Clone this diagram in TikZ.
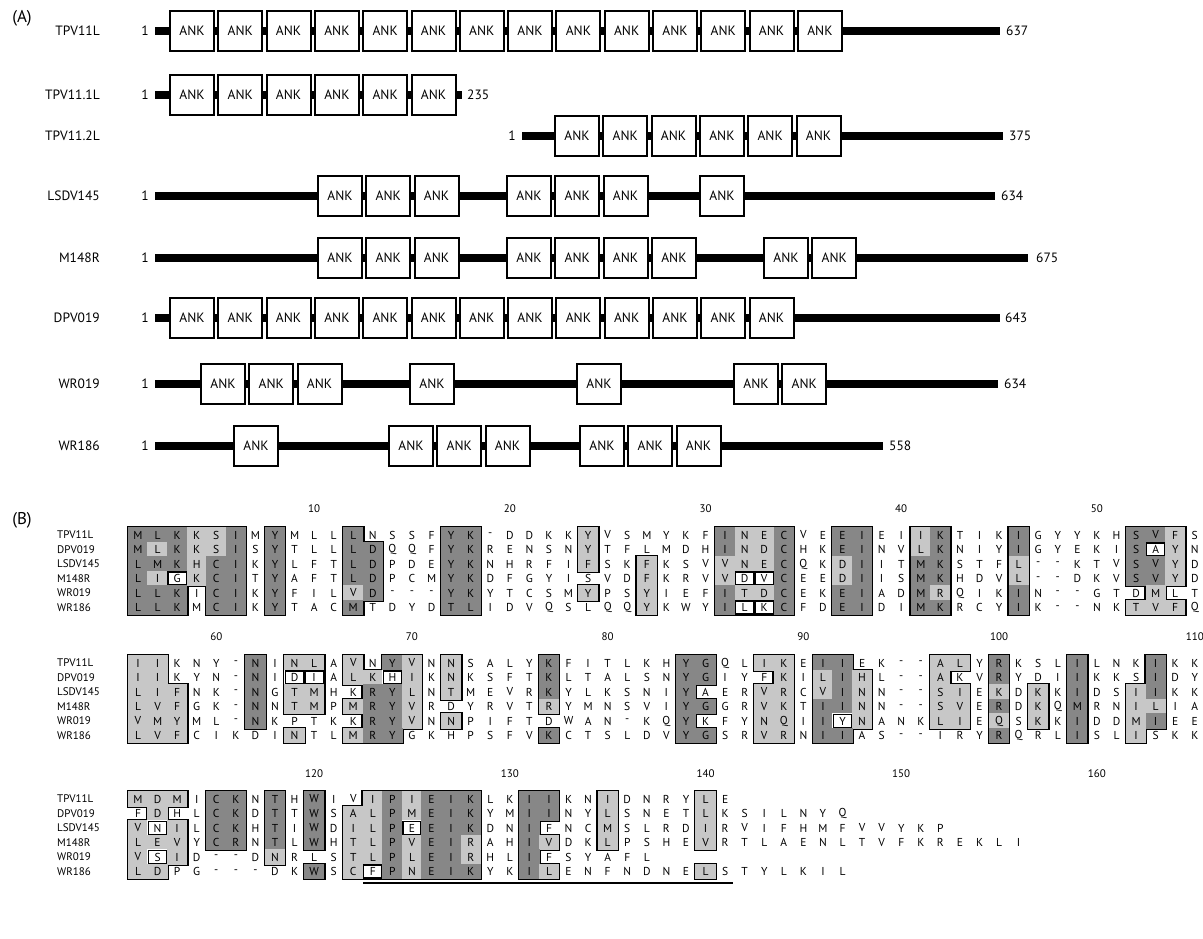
\documentclass[tikz,border=0pt]{standalone}
\usepackage{fontspec}
\setmainfont{PT Sans}
\usetikzlibrary{positioning}

\colorlet{shd}{black!47}
\colorlet{shl}{black!22}
\colorlet{shw}{white}

% one alignment row: id, y, residues, shading (d dark, l light, w white box, n none)
\newcount\alcol
\def\alrow#1#2#3#4{\alcol=1 \def\alid{#1}\def\aly{#2}\alwalk#3\relax#4\relax}
\def\alwalk#1#2\relax#3#4\relax{%
  \alcell{#1}{#3}%
  \advance\alcol by 1\relax
  \ifx\relax#2\relax\else\alwalk#2\relax#4\relax\fi}
% pass 1: black outsets, pass 2: shading, pass 3: residues
\def\alcellA#1#2{%
  \if#2n\else
    \pgfmathsetmacro\cx{138+(\the\alcol-1)*19.57}%
    \fill (\cx-11.4,\aly-8.85) rectangle (\cx+11.4,\aly+8.85);
  \fi}
\def\alcellB#1#2{%
  \if#2n\else
    \pgfmathsetmacro\cx{138+(\the\alcol-1)*19.57}%
    \fill[sh#2] (\cx-10.1,\aly-7.55) rectangle (\cx+10.1,\aly+7.55);
    \if#2w\draw[line width=1.4pt] (\cx-9.1,\aly-6.55) rectangle (\cx+9.1,\aly+6.55);\fi
  \fi}
\def\alcellC#1#2{%
  \pgfmathsetmacro\cx{138+(\the\alcol-1)*19.57}%
  \node[res] (\alid-\the\alcol) at (\cx,\aly) {#1};}

\def\aldata{%
% block 1
\alrow{a1}{535}{MLKKSIMYML LLNSSFYK-D DKKYVSMYKF INECVEEIEI IKTIKIGYYK HSVFS}
               {dddlldndnn ndnnnnddnn nnnlnnnnnn dlldnnddnn ldnnndnnnn nddln}%
\alrow{a2}{549.5}{MLKKSISYTL LLDQQFYKRE NSNYTFLMDH INDCHKEINV LKNIYIGYEK ISAYN}
                 {dldlldndnn nddnnnddnn nnnlnnnnnn dlldnnddnn ldnnndnnnn ndwln}%
\alrow{a3}{564}{LMKHCIKYLF TLDPDEYKNH RFIFSKFKSV VNECQKDIIT MKSTFL--KT VSVYD}
               {dddlddndnn nddnnnddnn nnnlnnlnnn llldnnldnn ddnnnlnnnn nddln}%
\alrow{a4}{578.5}{LIGKCITYAF TLDPCMYKDF GYISVDFKRV VDVCEEDIIS MKHDVL--DK VSVYD}
                 {dlwlddndnn nddnnnddnn nnnnnnlnnn lwwdnnldnn ddnnnlnnnn nddln}%
\alrow{a5}{593}{LLKICIKYFI LVD---YKYT CSMYPSYIEF ITDCEKEIAD MRQIKIN--G TDMLT}
               {dddnddndnn nldnnnddnn nnnlnnlnnn dlldnnddnn dlnnndnnnn nnlnn}%
\alrow{a6}{607.5}{LLKMCIKYTA CMTDYDTLID VQSLQQYKWY ILKCFDEIDI MKRCYIK--N KTVFQ}
                 {dddnddndnn ndnnnnddnn nnnnnnlnnn dwwdnnddnn ddnnndnnnn nllln}%
% block 2
\alrow{b1}{663}{IIKNY-NINL AVNYVNNSAL YKFITLKHYG QLIKEIIEK- -ALYRKSLIL NKIKK}
               {llnnnndnll nlndlnlnnn ndnnnnnndd nnllnddnnn nllndnnndn nndnn}%
\alrow{b2}{677.5}{IIKYN-NIDI ALKHIKNKSF TKLTALSNYG IYFKILIHL- -AKVRYDIIK KSIDY}
                 {llnnnndnww nllwlnlnnn ndnnnnnndd nnnlnldlnn nlnndnnndn nndnn}%
\alrow{b3}{692}{LIFNK-NGTM HKRYLNTMEV RKYLKSNIYA ERVRCVINN- -SIEKDKKID SIIKK}
               {lllnnndnll nnddlnlnnn ndnnnnnndn nnllnldlnn nllnlnlndn nldnn}%
\alrow{b4}{706.5}{LVFGK-NNTM PMRYVRDYRV TRYMNSVIYG GRVKTIINN- -SVERDKQMR NILIA}
                 {lllnnndnll nlddlnnnnn nlnnnnnndd nnllnddlnn nllndnlndn nllnn}%
\alrow{b5}{721}{VMYML-NKPT KKRYVNNPIF TDWAN-KQYK FYNQIIYNAN KLIEQSKKID DMIEE}
               {lllnnndnnn nnddlnlnnn nnnnnnnndn nnllndwlnn nllnlnlndn nldnn}%
\alrow{b6}{735.5}{LVFCIKDINT LMRYGKHPSF VKCTSLDVYG SRVRNIIAS- -IRYRQRLIS LISKK}
                 {lllnnnnnln nlddnnnnnn ndnnnnnndd nnllnddnnn nnnndnnndn nlnnn}%
% block 3
\alrow{c1}{799}{MDMICKNTHW IVIPIEIKLK IIKNIDNRYL E}
               {lllnddndnd nnldldddnn ddnnlnnnnl n}%
\alrow{c2}{813.5}{FDHLCKDTTW SALPMEIKYM IINYLSNETL KSILNYQ}
                 {nlnnddndnd nlldldddnn ddnnlnnnnl nnnnnnn}%
\alrow{c3}{828}{VNILCKHTIW DILPEEIKDN IFNCMSLRDI RVIFHMFVVY KP}
               {lwlnddndnd nlldwdddnn dnnnlnnnnl nnnnnnnnnn nn}%
\alrow{c4}{842.5}{LEVYCRNTLW HTLPVEIRAH IVDKLPSHEV RTLAENLTVF KREKLI}
                 {lllnddndnd nlldlddlnn dlnnlnnnnl nnnnnnnnnn nnnnnn}%
\alrow{c5}{857}{VSID--DNRL STLPLEIRHL IFSYAFL}
               {lwlnnnnlnn nlldlddlnn dnnnnnn}%
\alrow{c6}{871.5}{LDPG---DKW SCFPNEIKYK ILENFNDNEL STYLKIL}
                 {llnnnnnnnd nlwdldddnn dlnnnnnnnl nnnnnnn}%
}

\begin{document}
\begin{tikzpicture}[x=1pt,y=-1pt,
  font=\fontsize{13.5}{15}\selectfont,
  ank/.style={draw, line width=2pt, fill=white, minimum width=44pt,
    minimum height=40pt, inner sep=0pt},
  bar/.style={line width=7.5pt},
  gname/.style={anchor=east, inner sep=0pt},
  endnum/.style={inner sep=0pt},
  res/.style={inner sep=0pt, font=\fontsize{11.5}{13}\selectfont},
  sname/.style={anchor=west, inner sep=0pt, font=\fontsize{11}{13}\selectfont},
  posnum/.style={inner sep=0pt, font=\fontsize{11}{13}\selectfont}
]
\useasboundingbox (0,0) rectangle (1203,938);

% (A) domain maps
\node[font=\fontsize{17}{19}\selectfont] (labA) at (22,18) {(A)};

\coordinate (tpvS) at (155,31); \coordinate (tpvE) at (1000,31);
\draw[bar] (tpvS) -- (tpvE);
\foreach \i in {0,...,13} \node[ank] (tpv-\i) at ({192+48.3*\i},31) {ANK};
\node[gname] (gTPV) at (100,31) {TPV11L};
\node[endnum, left=6pt of tpvS] (tpv1) {1};
\node[endnum, right=6pt of tpvE] (tpvN) {637};

\coordinate (tpaS) at (155,95); \coordinate (tpaE) at (462,95);
\draw[bar] (tpaS) -- (tpaE);
\foreach \i in {0,...,5} \node[ank] (tpa-\i) at ({192+48.3*\i},95) {ANK};
\node[gname] (gTPA) at (100,95) {TPV11.1L};
\node[endnum, left=6pt of tpaS] (tpa1) {1};
\node[endnum, right=5pt of tpaE] (tpaN) {235};

\coordinate (tpbS) at (522,136); \coordinate (tpbE) at (1003,136);
\draw[bar] (tpbS) -- (tpbE);
\foreach \i in {0,...,5} \node[ank] (tpb-\i) at ({577+48.3*\i},136) {ANK};
\node[gname] (gTPB) at (100,136) {TPV11.2L};
\node[endnum, left=6pt of tpbS] (tpb1) {1};
\node[endnum, right=6pt of tpbE] (tpbN) {375};

\coordinate (lsdS) at (155,196); \coordinate (lsdE) at (995,196);
\draw[bar] (lsdS) -- (lsdE);
\foreach \x [count=\i] in {340,388.3,436.6,529,577.3,625.6,722}
  \node[ank] (lsd-\i) at (\x,196) {ANK};
\node[gname] (gLSD) at (100,196) {LSDV145};
\node[endnum, left=6pt of lsdS] (lsd1) {1};
\node[endnum, right=6pt of lsdE] (lsdN) {634};

\coordinate (mS) at (155,258); \coordinate (mE) at (1028,258);
\draw[bar] (mS) -- (mE);
\foreach \x [count=\i] in {340,388.3,436.6,529,577.3,625.6,673.9,786,834.3}
  \node[ank] (m-\i) at (\x,258) {ANK};
\node[gname] (gM) at (100,258) {M148R};
\node[endnum, left=6pt of mS] (m1) {1};
\node[endnum, right=8pt of mE] (mN) {675};

\coordinate (dpvS) at (155,318); \coordinate (dpvE) at (1000,318);
\draw[bar] (dpvS) -- (dpvE);
\foreach \i in {0,...,12} \node[ank] (dpv-\i) at ({192+48.3*\i},318) {ANK};
\node[gname] (gDPV) at (100,318) {DPV019};
\node[endnum, left=6pt of dpvS] (dpv1) {1};
\node[endnum, right=5pt of dpvE] (dpvN) {643};

\coordinate (wraS) at (155,384); \coordinate (wraE) at (998,384);
\draw[bar] (wraS) -- (wraE);
\foreach \x [count=\i] in {223,271.3,319.6,432,599,756,804.3}
  \node[ank] (wra-\i) at (\x,384) {ANK};
\node[gname] (gWRA) at (100,384) {WR019};
\node[endnum, left=6pt of wraS] (wra1) {1};
\node[endnum, right=6pt of wraE] (wraN) {634};

\coordinate (wrbS) at (155,446); \coordinate (wrbE) at (883,446);
\draw[bar] (wrbS) -- (wrbE);
\foreach \x [count=\i] in {256,411,459.3,507.6,602,650.3,698.6}
  \node[ank] (wrb-\i) at (\x,446) {ANK};
\node[gname] (gWRB) at (100,446) {WR186};
\node[endnum, left=6pt of wrbS] (wrb1) {1};
\node[endnum, right=6pt of wrbE] (wrbN) {558};

% (B) alignment
\node[font=\fontsize{17}{19}\selectfont] (labB) at (22,520) {(B)};

\foreach \nm [count=\r] in {TPV11L,DPV019,LSDV145,M148R,WR019,WR186}{
  \node[sname] (sa-\r) at (57,{535+14.5*(\r-1)}) {\nm};
  \node[sname] (sb-\r) at (57,{663+14.5*(\r-1)}) {\nm};
  \node[sname] (sc-\r) at (57,{799+14.5*(\r-1)}) {\nm};
}
\foreach \n/\c in {10/10,20/20,30/30,40/40,50/50}
  \node[posnum] (pa\n) at ({138+19.57*(\c-1)},509) {\n};
\foreach \n/\c in {60/5,70/15,80/25,90/35,100/45,110/55}
  \node[posnum] (pb\n) at ({138+19.57*(\c-1)},637) {\n};
\foreach \n/\c in {120/10,130/20,140/30,150/40,160/50}
  \node[posnum] (pc\n) at ({138+19.57*(\c-1)},774) {\n};

\let\alcell\alcellA \aldata
\let\alcell\alcellB \aldata
\let\alcell\alcellC \aldata

\coordinate (ulA) at (363,883); \coordinate (ulB) at (733,883);
\draw[line width=1.2pt] (ulA) -- (ulB);

\end{tikzpicture}
\end{document}
